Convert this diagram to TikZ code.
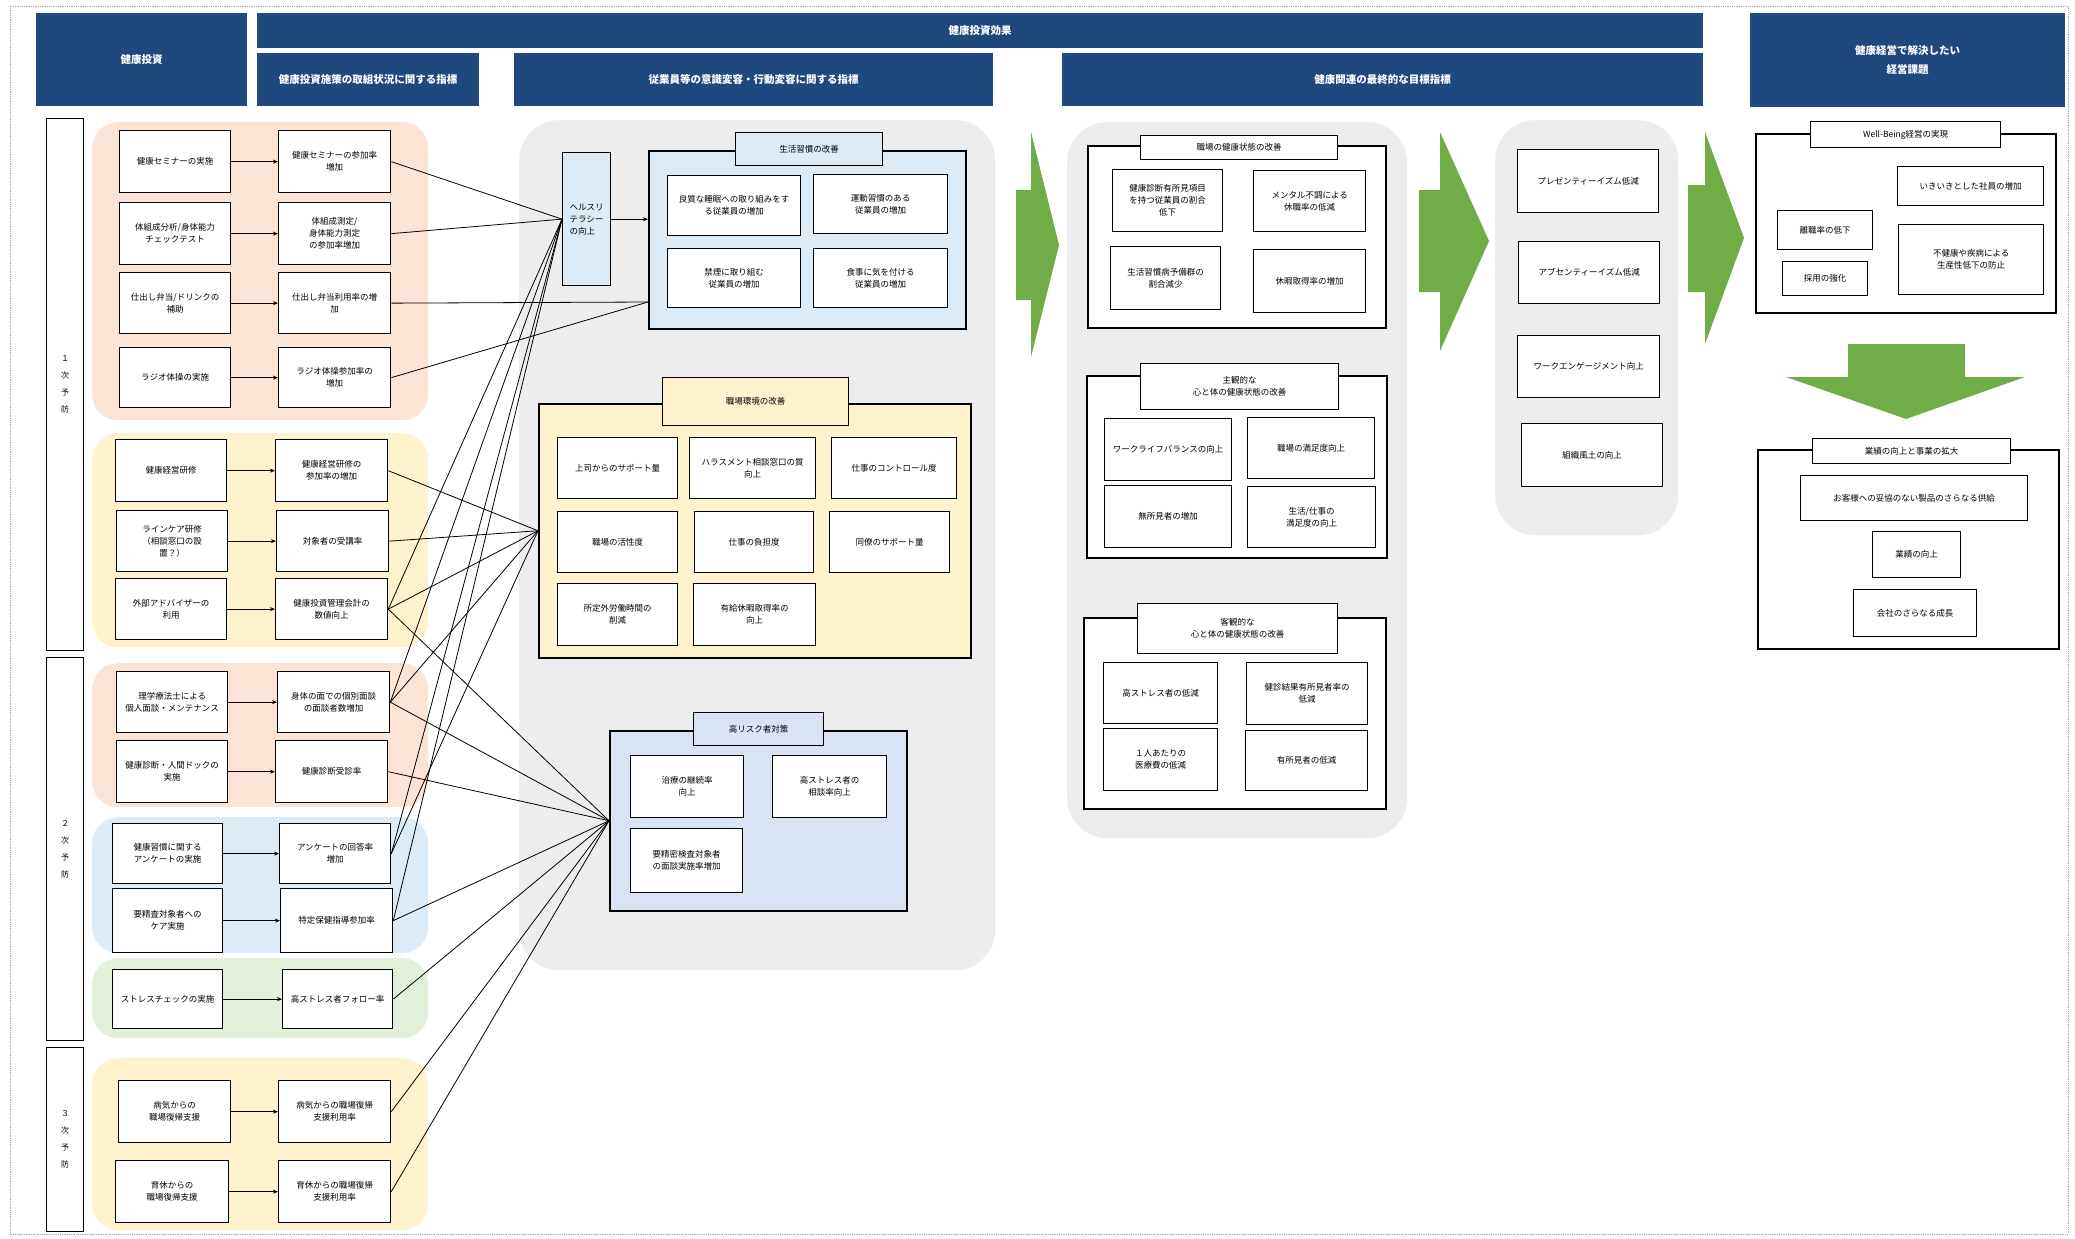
\documentclass[tikz,border=0pt]{standalone}
\usepackage{fontspec}
\setmainfont{Noto Sans CJK JP}
\usetikzlibrary{arrows.meta}
\definecolor{navy}{RGB}{31,73,125}
\definecolor{peach}{RGB}{251,228,214}
\definecolor{cream}{RGB}{255,242,204}
\definecolor{lblue}{RGB}{221,235,247}
\definecolor{lgreen}{RGB}{226,239,218}
\definecolor{grayreg}{RGB}{237,237,237}
\definecolor{lav}{RGB}{218,227,243}
\definecolor{garrow}{RGB}{112,173,71}
\newcommand{\bx}[7][box]{\node[#1,anchor=north west,minimum width=#5pt,minimum height=#6pt] (#2) at (#3,#4) {#7};}
\begin{document}
\begin{tikzpicture}[x=1pt,y=-1pt,
  box/.style={draw=black,line width=1.3pt,fill=white,align=center,inner sep=1pt,font=\fontsize{8.5}{12}\selectfont},
  hdr/.style={draw=none,fill=navy,text=white,align=center,inner sep=1pt,font=\fontsize{10.5}{13}\selectfont\bfseries},
  bar/.style={draw=black,line width=1.3pt,fill=white,align=center,inner sep=1pt,font=\fontsize{8}{17}\selectfont},
  lgrp/.style={draw=none,rounded corners=26pt,inner sep=0pt},
  greg/.style={draw=none,fill=grayreg,rounded corners=40pt,inner sep=0pt},
  grp/.style={draw=black,line width=1.5pt,fill=white,inner sep=0pt},
  ttl/.style={draw=black,line width=1.3pt,fill=white,align=center,inner sep=1pt,font=\fontsize{8.5}{12}\selectfont},
  conn/.style={draw=black,line width=0.8pt},
  arr/.style={draw=black,line width=0.9pt,-{Stealth[length=5pt,width=4pt]}},
  garr/.style={fill=garrow,draw=none}]
\useasboundingbox (0,0) rectangle (2075,1239);
\fill[white] (0,0) rectangle (2075,1239);
\draw[gray!70,densely dotted,line width=0.8pt] (10,6) rectangle (2068,1234);

% headers
\bx[hdr]{h0}{36}{13}{211}{93}{健康投資}
\bx[hdr]{h1}{257}{13}{1446}{35}{健康投資効果}
\bx[hdr]{h2}{257}{53}{222}{53}{健康投資施策の取組状況に関する指標}
\bx[hdr]{h3}{514}{53}{479}{53}{従業員等の意識変容・行動変容に関する指標}
\bx[hdr]{h4}{1062}{53}{641}{53}{健康関連の最終的な目標指標}
\bx[hdr]{h5}{1750}{13}{315}{94}{健康経営で解決したい\\[6pt]経営課題}

% vertical bars
\bx[bar]{v1}{46}{118}{37}{532}{１\\次\\予\\防}
\bx[bar]{v2}{46}{657}{37}{383}{２\\次\\予\\防}
\bx[bar]{v3}{46}{1047}{37}{184}{３\\次\\予\\防}

% left groups
\bx[lgrp,fill=peach]{lg1}{92}{122}{336}{298}{}
\bx[lgrp,fill=cream]{lg2}{92}{433}{336}{214}{}
\bx[lgrp,fill=peach]{lg3}{92}{663}{336}{144}{}
\bx[lgrp,fill=lblue]{lg4}{92}{817}{336}{136}{}
\bx[lgrp,fill=lgreen]{lg5}{92}{958}{336}{80}{}
\bx[lgrp,fill=cream]{lg6}{92}{1058}{336}{172}{}

% left boxes
\bx{a1}{119}{130}{111}{62}{健康セミナーの実施}
\bx{b1}{278}{130}{112}{62}{健康セミナーの参加率\\増加}
\bx{a2}{119}{202}{111}{62}{体組成分析/身体能力\\チェックテスト}
\bx{b2}{278}{202}{112}{62}{体組成測定/\\身体能力測定\\の参加率増加}
\bx{a3}{119}{272}{111}{61}{仕出し弁当/ドリンクの\\補助}
\bx{b3}{278}{272}{112}{61}{仕出し弁当利用率の増\\加}
\bx{a4}{119}{347}{111}{60}{ラジオ体操の実施}
\bx{b4}{278}{347}{112}{60}{ラジオ体操参加率の\\増加}
\bx{a5}{115}{439}{111}{62}{健康経営研修}
\bx{b5}{275}{439}{112}{62}{健康経営研修の\\参加率の増加}
\bx{a6}{116}{510}{111}{61}{ラインケア研修\\（相談窓口の設\\置？）}
\bx{b6}{276}{510}{112}{61}{対象者の受講率}
\bx{a7}{115}{578}{111}{61}{外部アドバイザーの\\利用}
\bx{b7}{275}{578}{112}{61}{健康投資管理会計の\\数値向上}
\bx{a8}{116}{671}{111}{61}{理学療法士による\\個人面談・メンテナンス}
\bx{b8}{277}{671}{112}{61}{身体の面での個別面談\\の面談者数増加}
\bx{a9}{116}{740}{111}{62}{健康診断・人間ドックの\\実施}
\bx{b9}{275}{740}{112}{62}{健康診断受診率}
\bx{a10}{112}{823}{110}{60}{健康習慣に関する\\アンケートの実施}
\bx{b10}{279}{823}{111}{60}{アンケートの回答率\\増加}
\bx{a11}{112}{888}{110}{64}{要精査対象者への\\ケア実施}
\bx{b11}{280}{888}{112}{64}{特定保健指導参加率}
\bx{a12}{112}{969}{110}{59}{ストレスチェックの実施}
\bx{b12}{282}{969}{110}{59}{高ストレス者フォロー率}
\bx{a13}{118}{1080}{112}{62}{病気からの\\職場復帰支援}
\bx{b13}{278}{1080}{112}{62}{病気からの職場復帰\\支援利用率}
\bx{a14}{115}{1160}{113}{62}{育休からの\\職場復帰支援}
\bx{b14}{278}{1160}{112}{62}{育休からの職場復帰\\支援利用率}

\foreach \i in {1,...,14} {\draw[arr] (a\i.east) -- (a\i.east -| b\i.west);}

% middle region
\bx[greg]{m0}{519}{120}{476}{850}{}
\bx[box,fill=lblue,align=left]{lit}{562}{152}{48}{133}{ヘルスリ\\テラシー\\の向上}
\bx[grp,fill=lblue]{seik}{648}{150}{317}{178}{}
\bx[ttl,fill=lblue]{seikt}{735}{132}{147}{33}{生活習慣の改善}
\bx{s1}{667}{175}{133}{60}{良質な睡眠への取り組みをす\\る従業員の増加}
\bx{s2}{813}{174}{134}{59}{運動習慣のある\\従業員の増加}
\bx{s3}{667}{248}{133}{59}{禁煙に取り組む\\従業員の増加}
\bx{s4}{813}{248}{134}{59}{食事に気を付ける\\従業員の増加}

\bx[grp,fill=cream]{shok}{538}{403}{432}{254}{}
\bx[ttl,fill=cream]{shokt}{662}{377}{186}{48}{職場環境の改善}
\bx{w1}{557}{437}{120}{61}{上司からのサポート量}
\bx{w2}{689}{437}{126}{61}{ハラスメント相談窓口の質\\向上}
\bx{w3}{831}{437}{125}{61}{仕事のコントロール度}
\bx{w4}{557}{511}{120}{61}{職場の活性度}
\bx{w5}{694}{511}{119}{61}{仕事の負担度}
\bx{w6}{829}{511}{120}{61}{同僚のサポート量}
\bx{w7}{557}{583}{120}{62}{所定外労働時間の\\削減}
\bx{w8}{693}{583}{122}{62}{有給休暇取得率の\\向上}

\bx[grp,fill=lav]{risk}{609}{730}{297}{180}{}
\bx[ttl,fill=lav]{riskt}{693}{712}{130}{33}{高リスク者対策}
\bx{k1}{630}{755}{113}{62}{治療の継続率\\向上}
\bx{k2}{772}{755}{114}{62}{高ストレス者の\\相談率向上}
\bx{k3}{630}{828}{112}{64}{要精密検査対象者\\の面談実施率増加}

\coordinate (hs) at (648,302);
\draw[arr] (lit.east) -- (lit.east -| seik.west);

% connectors
\foreach \s in {b1,b2,b7,b8,b10,b11} {\draw[conn] (\s.east) -- (lit.west);}
\foreach \s in {b3,b4} {\draw[conn] (\s.east) -- (hs);}
\foreach \s in {b5,b6,b7,b8,b10} {\draw[conn] (\s.east) -- (shok.west);}
\foreach \s in {b7,b8,b9,b11,b12,b13,b14} {\draw[conn] (\s.east) -- (risk.west);}

% green arrows
\fill[garr] (1016,190) -- (1031,190) -- (1031,132) -- (1059,245) -- (1031,357) -- (1031,300) -- (1016,300) -- cycle;
\fill[garr] (1419,190) -- (1440,190) -- (1440,132) -- (1489,241) -- (1440,351) -- (1440,292) -- (1419,292) -- cycle;
\fill[garr] (1688,185) -- (1705,185) -- (1705,132) -- (1744,238) -- (1705,344) -- (1705,292) -- (1688,292) -- cycle;
\fill[garr] (1848,344) -- (1965,344) -- (1965,377) -- (2025,377) -- (1906,419) -- (1786,377) -- (1848,377) -- cycle;

% right region 1
\bx[greg]{m1}{1067}{122}{340}{716}{}
\bx[grp]{q1}{1087}{145}{298}{182}{}
\bx[ttl]{q1t}{1140}{135}{197}{24}{職場の健康状態の改善}
\bx{g1}{1112}{169}{110}{62}{健康診断有所見項目\\を持つ従業員の割合\\低下}
\bx{g2}{1253}{170}{112}{61}{メンタル不調による\\休職率の低減}
\bx{g3}{1110}{246}{110}{63}{生活習慣病予備群の\\割合減少}
\bx{g4}{1253}{249}{112}{63}{休暇取得率の増加}

\bx[grp]{q2}{1086}{375}{300}{182}{}
\bx[ttl]{q2t}{1140}{363}{198}{46}{主観的な\\心と体の健康状態の改善}
\bx{e1}{1104}{418}{127}{62}{ワークライフバランスの向上}
\bx{e2}{1247}{417}{127}{61}{職場の満足度向上}
\bx{e3}{1104}{485}{127}{62}{無所見者の増加}
\bx{e4}{1247}{486}{128}{61}{生活/仕事の\\満足度の向上}

\bx[grp]{q3}{1083}{617}{302}{191}{}
\bx[ttl]{q3t}{1137}{603}{200}{50}{客観的な\\心と体の健康状態の改善}
\bx{o1}{1103}{662}{114}{61}{高ストレス者の低減}
\bx{o2}{1246}{662}{121}{62}{健診結果有所見者率の\\低減}
\bx{o3}{1103}{728}{114}{62}{１人あたりの\\医療費の低減}
\bx{o4}{1245}{730}{122}{60}{有所見者の低減}

% right region 2
\bx[greg]{m2}{1495}{120}{183}{415}{}
\bx{p1}{1517}{149}{141}{63}{プレゼンティーイズム低減}
\bx{p2}{1518}{241}{141}{62}{アブセンティーイズム低減}
\bx{p3}{1517}{335}{142}{62}{ワークエンゲージメント向上}
\bx{p4}{1521}{423}{141}{63}{組織風土の向上}

% right column
\bx[grp]{wb}{1755}{133}{300}{179}{}
\bx[ttl]{wbt}{1810}{121}{190}{26}{Well-Being経営の実現}
\bx{x1}{1897}{166}{146}{39}{いきいきとした社員の増加}
\bx{x2}{1777}{210}{95}{39}{離職率の低下}
\bx{x3}{1782}{261}{85}{34}{採用の強化}
\bx{x4}{1898}{224}{145}{70}{不健康や疾病による\\生産性低下の防止}

\bx[grp]{gy}{1757}{449}{301}{199}{}
\bx[ttl]{gyt}{1812}{438}{198}{25}{業績の向上と事業の拡大}
\bx{y1}{1800}{475}{227}{45}{お客様への妥協のない製品のさらなる供給}
\bx{y2}{1872}{531}{88}{46}{業績の向上}
\bx{y3}{1853}{589}{123}{47}{会社のさらなる成長}
\end{tikzpicture}
\end{document}
